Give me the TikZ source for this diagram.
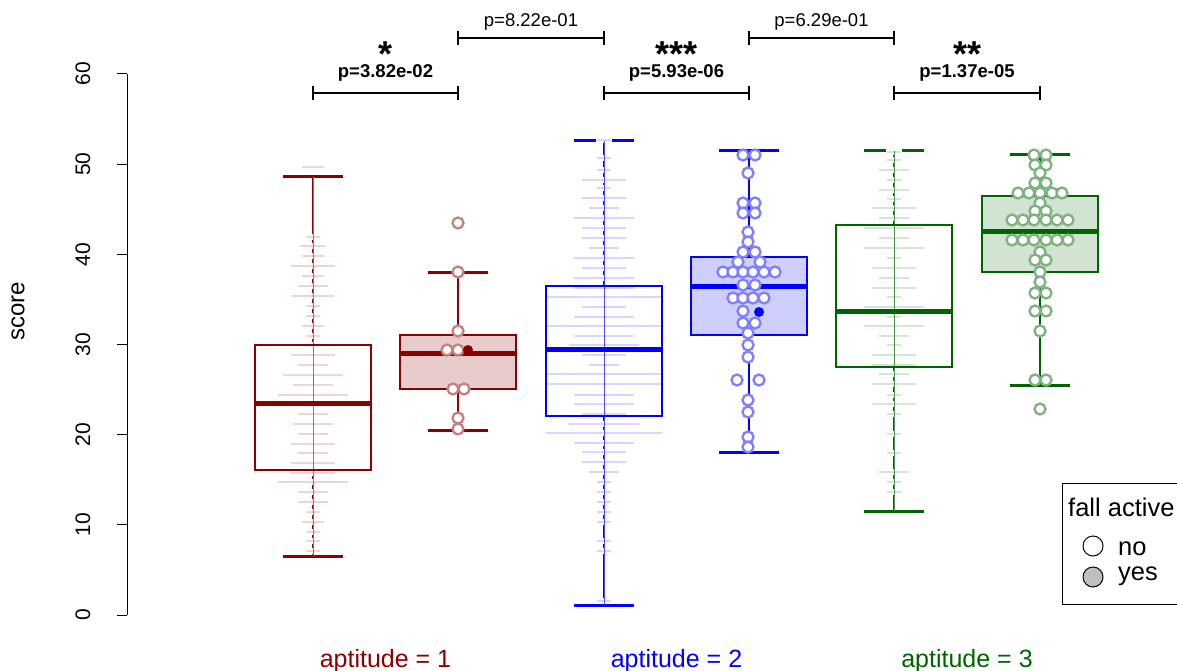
\documentclass[tikz,border=0pt]{standalone}
\usepackage{fontspec}
\setmainfont{Liberation Sans}
\definecolor{gA}{HTML}{8B0000}
\definecolor{gB}{HTML}{0000FF}
\definecolor{gC}{HTML}{006400}
\newcommand\bxbody[6]{% color, fill, cx, q3, q1, med
  \draw[#1, line width=2.5, fill=#2] ({#3-58},#4) rectangle ({#3+58},#5);
  \draw[#1, line width=5] ({#3-58},#6) -- ({#3+58},#6);}
\newcommand\bxwhisk[5]{% color, cx, from, to(cap), width
  \draw[#1, line width=#5] (#2,#3) -- (#2,#4);
  \draw[#1, line width=3] ({#2-30},#4) -- ({#2+30},#4);}
\tikzset{
  axisline/.style={black, line width=1},
  brk/.style={black, line width=1.4},
  ticklab/.style={font=\fontsize{21}{24}\selectfont, rotate=90, inner sep=0},
  grplab/.style={font=\fontsize{25}{30}\selectfont, anchor=base, inner sep=0},
  plab/.style={font=\fontsize{18.5}{22}\selectfont, anchor=base, inner sep=0},
  pbold/.style={font=\fontsize{18.5}{22}\selectfont\bfseries, anchor=base, inner sep=0},
  starlab/.style={font=\fontsize{36}{40}\selectfont\bfseries, anchor=base, inner sep=0},
  legtxt/.style={font=\fontsize{25.5}{30}\selectfont, anchor=base west, inner sep=0},
}
\begin{document}
\begin{tikzpicture}[x=1pt,y=-1pt]
\useasboundingbox (0,0) rectangle (1177,671);
\clip (0,0) rectangle (1177,671);
% y axis
\draw[axisline] (127,74) -- (127,615);
\foreach \v in {0,10,...,60} {
  \draw[axisline] (117,{615-9.017*\v}) -- (127,{615-9.017*\v});
  \node[ticklab] (t\v) at (83,{615-9.017*\v}) {\v};
}
\node[font=\fontsize{24}{28}\selectfont, rotate=90, inner sep=0] (ylab) at (18,311) {score};

% ---------- group 1 no ----------
\bxwhisk{gA}{313}{345}{177}{2.5}
\bxwhisk{gA}{313}{470}{556}{2.5}
\foreach \y/\w in {167/22,237/14,246/26,256/22,266/44,276/22,286/30,296/42,306/14,316/14,326/22,336/14,345/30,355/44,365/30,375/60,385/40,395/70,404/60,414/30,424/40,434/30,444/44,453/30,463/44,473/44,482/70,492/30,502/30,512/14,522/22,532/14,541/14,551/14} {
  \fill[white] ({313-\w/2-1},\y-2.6) rectangle ({313+\w/2+1},\y+2.6);
  \fill[gA!16] ({313-\w/2},\y-1.2) rectangle ({313+\w/2},\y+1.2);
}
\draw[gA!60, line width=0.8] (313,177) -- (313,556);
\bxbody{gA}{none}{313}{345}{470}{403}

% ---------- group 1 yes ----------
\bxbody{gA}{gA!20}{458}{335}{389}{353}
\bxwhisk{gA}{458}{335}{272}{2.5}
\bxwhisk{gA}{458}{389}{430}{2.5}
\foreach \x/\y in {458/223,458/272,458/331,447/350,458/350,453/389,464/389,458/418,458/429} {
  \draw[gA!50, line width=2.3, fill=white] (\x,\y) circle (5.5);
}
\fill[gA] (468,350) circle (5);

% ---------- group 2 no ----------
\bxwhisk{gB}{604}{286}{141}{2.5}
\bxwhisk{gB}{604}{416}{605}{2.5}
\foreach \y/\w in {140/14,158/14,170/14,180/44,188/14,198/44,208/30,218/60,228/44,238/44,248/30,258/60,268/44,278/60,288/60,297/116,307/44,317/60,326/116,336/60,345/70,355/44,365/30,374/116,384/116,395/60,404/60,414/44,424/70,433/116,443/60,452/44,462/44,472/30,482/14,492/14,502/14,512/14,522/14,541/14,551/14,601/14} {
  \fill[white] ({604-\w/2-1},\y-2.6) rectangle ({604+\w/2+1},\y+2.6);
  \fill[gB!16] ({604-\w/2},\y-1.2) rectangle ({604+\w/2},\y+1.2);
}
\draw[gB!70, line width=0.8] (604,141) -- (604,605);
\bxbody{gB}{none}{604}{286}{416}{349}

% ---------- group 2 yes ----------
\bxbody{gB}{gB!19}{749}{257}{335}{286}
\bxwhisk{gB}{749}{257}{151}{2.5}
\bxwhisk{gB}{749}{335}{452}{2.5}
\foreach \x/\y in {743/155,755/155,748/173,743/203,755/203,743/213,755/213,748/232,748/242,743/252,755/252,738/262,760/262,723/272,733/272,743/272,753/272,764/272,775/272,743/285,755/285,733/298,743/298,753/298,764/298,743/311,743/323,755/323,748/333,748/345,748/357,737/380,759/380,748/400,748/412,748/437,748/447} {
  \draw[gB!50, line width=2.3, fill=white] (\x,\y) circle (5.5);
}
\fill[gB] (759,312) circle (5);

% ---------- group 3 no ----------
\bxwhisk{gC}{894}{225}{151}{2.5}
\bxwhisk{gC}{894}{367}{511}{2.5}
\foreach \y/\w in {152/14,160/14,170/30,180/14,190/30,199/14,208/44,218/30,228/60,238/30,248/60,258/14,268/44,278/30,288/44,297/14,307/60,317/14,326/60,336/30,345/14,355/44,365/44,374/30,384/44,395/14,404/44,414/14,434/14,453/14,472/30,482/14,492/14} {
  \fill[white] ({894-\w/2-1},\y-2.6) rectangle ({894+\w/2+1},\y+2.6);
  \fill[gC!16] ({894-\w/2},\y-1.2) rectangle ({894+\w/2},\y+1.2);
}
\draw[gC!70, line width=0.8] (894,151) -- (894,511);
\bxbody{gC}{none}{894}{225}{367}{311}

% ---------- group 3 yes ----------
\bxbody{gC}{gC!18}{1040}{196}{272}{231}
\bxwhisk{gC}{1040}{196}{155}{2.5}
\bxwhisk{gC}{1040}{272}{385}{2.5}
\foreach \x/\y in {1034/155,1046/155,1035/165,1046/165,1040/173,1035/183,1046/183,1018/193,1029/193,1040/193,1052/193,1062/193,1040/203,1035/211,1046/211,1012/220,1023/220,1034/220,1046/220,1057/220,1068/220,1012/240,1023/240,1034/240,1046/240,1057/240,1068/240,1040/252,1035/260,1046/260,1040/272,1040/282,1035/293,1046/293,1035/311,1046/311,1040/331,1035/380,1046/380,1040/409} {
  \draw[gC!50, line width=2.3, fill=white] (\x,\y) circle (5.5);
}

% ---------- significance brackets ----------
\coordinate (b1) at (313,93); \coordinate (b2) at (458,93);
\coordinate (b3) at (604,93); \coordinate (b4) at (749,93);
\coordinate (b5) at (894,93); \coordinate (b6) at (1040,93);
\coordinate (c1) at (458,38); \coordinate (c2) at (604,38);
\coordinate (c3) at (749,38); \coordinate (c4) at (894,38);
\foreach \a/\b in {b1/b2,b3/b4,b5/b6,c1/c2,c3/c4} {
  \draw[brk] (\a) -- (\b);
  \draw[brk] ([yshift=-7pt]\a) -- ([yshift=7pt]\a);
  \draw[brk] ([yshift=-7pt]\b) -- ([yshift=7pt]\b);
}
\node[pbold] (p1) at (385.5,78) {p=3.82e-02};
\node[starlab] (s1) at (385.5,67) {*};
\node[pbold] (p2) at (676.5,78) {p=5.93e-06};
\node[starlab] (s2) at (676.5,67) {***};
\node[pbold] (p3) at (967,78) {p=1.37e-05};
\node[starlab] (s3) at (967,67) {**};
\node[plab] (p4) at (531,27) {p=8.22e-01};
\node[plab] (p5) at (821.5,27) {p=6.29e-01};

% ---------- group labels ----------
\node[grplab, text=gA] (x1) at (385.5,667) {aptitude = 1};
\node[grplab, text=gB] (x2) at (676.5,667) {aptitude = 2};
\node[grplab, text=gC] (x3) at (967,667) {aptitude = 3};

% ---------- legend ----------
\draw[black, line width=1, fill=white] (1062,483) rectangle (1190,604);
\node[legtxt] (lt) at (1068,516) {fall active};
\draw[black, line width=1, fill=white] (1093,546) circle (10);
\node[legtxt] (ln) at (1118,555) {no};
\draw[black, line width=1, fill=black!25] (1093,577) circle (10);
\node[legtxt] (ly) at (1118,580) {yes};
\end{tikzpicture}
\end{document}
